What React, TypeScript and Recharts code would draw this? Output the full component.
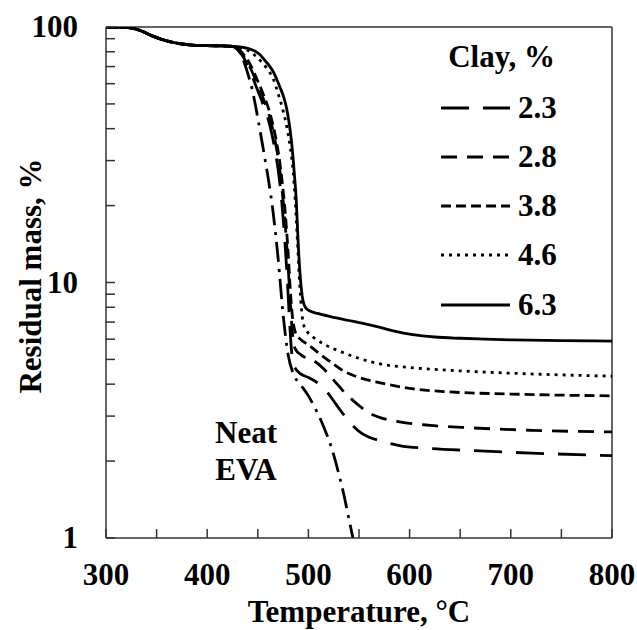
import React from "react";
import { LineChart, Line, XAxis, YAxis, ReferenceLine } from "recharts";

const FONT = '"Liberation Serif", "Times New Roman", serif';
const AXIS = "#333";

// ticks
const xTicks = [300, 350, 400, 450, 500, 550, 600, 650, 700, 750, 800];
const xLabels = [300, 400, 500, 600, 700, 800];
const yTicks = [1, 2, 3, 4, 5, 6, 7, 8, 9, 10, 20, 30, 40, 50, 60, 70, 80, 90, 100];
const yLabels = [1, 10, 100];

// [temperature °C, residual mass %]
const neatEva = [
  [300, 100], [315, 99.8], [325, 99], [335, 96.5], [345, 92.5], [355, 89.5], [365, 87.3],
  [375, 85.8], [385, 85], [400, 84.5], [415, 84.3], [425, 84], [430, 82], [434, 77],
  [438, 70], [441, 64], [444, 58], [447, 51], [450, 44], [455, 34], [460, 26], [465, 19],
  [470, 12.5], [475, 7.5], [480, 5.2], [485, 4.4], [492, 4], [500, 3.6], [507, 3.2],
  [513, 2.85], [518, 2.55], [523, 2.25], [527, 1.98], [531, 1.72], [535, 1.48], [538, 1.3],
  [541, 1.14], [544, 1.0],
];
const clay23 = [
  [300, 100], [315, 99.8], [325, 99], [335, 96.5], [345, 92.5], [355, 89.5], [365, 87.3],
  [375, 85.8], [385, 85], [400, 84.5], [415, 84.3], [425, 84], [430, 81.5], [436, 76],
  [442, 68], [448, 59], [455, 50], [462, 41], [467, 33], [471, 26], [474, 20], [477, 14],
  [479, 10.5], [481, 7.5], [483, 5.6], [486, 4.7], [492, 4.4], [500, 4.25], [509, 4.05],
  [518, 3.75], [527, 3.35], [536, 3.0], [544, 2.75], [552, 2.58], [560, 2.48], [571, 2.4],
  [590, 2.3], [620, 2.24], [660, 2.2], [720, 2.15], [800, 2.1],
];
const clay28 = [
  [300, 100], [315, 99.8], [325, 99], [335, 96.5], [345, 92.5], [355, 89.5], [365, 87.3],
  [375, 85.8], [385, 85], [400, 84.5], [415, 84.3], [425, 84], [430, 82], [436, 77],
  [442, 70], [448, 62], [455, 53], [462, 44], [467, 36], [471, 29], [474, 23], [477, 17],
  [480, 11.5], [482, 8.5], [484, 6.5], [487, 5.5], [493, 5.2], [505, 4.95], [515, 4.6],
  [525, 4.15], [536, 3.7], [548, 3.35], [558, 3.12], [571, 2.96], [590, 2.85], [620, 2.76],
  [660, 2.7], [720, 2.64], [800, 2.6],
];
const clay38 = [
  [300, 100], [315, 99.8], [325, 99], [335, 96.5], [345, 92.5], [355, 89.5], [365, 87.3],
  [375, 85.8], [385, 85], [400, 84.5], [415, 84.3], [425, 84], [430, 82.5], [436, 78],
  [442, 72], [448, 64], [455, 55], [462, 46], [467, 38], [471, 31], [474, 25], [477, 19],
  [480, 13], [482, 9.5], [484, 7.5], [487, 6.4], [492, 6], [500, 5.7], [510, 5.3],
  [520, 4.95], [535, 4.5], [550, 4.25], [571, 4.05], [600, 3.85], [640, 3.73], [700, 3.66],
  [800, 3.6],
];
const clay46 = [
  [300, 100], [315, 99.8], [325, 99], [335, 96.5], [345, 92.5], [355, 89.5], [365, 87.3],
  [375, 85.8], [385, 85], [400, 84.5], [415, 84.3], [425, 84], [430, 83.5], [440, 81],
  [447, 77.5], [455, 72], [460, 68], [465, 63], [470, 55], [475, 47], [479, 40], [482, 34],
  [485, 27], [487, 21], [489, 15], [491, 10.5], [493, 8], [495, 6.9], [499, 6.4], [505, 6.1],
  [515, 5.75], [530, 5.4], [550, 5.05], [571, 4.8], [600, 4.65], [637, 4.54], [680, 4.45],
  [740, 4.36], [800, 4.3],
];
const clay63 = [
  [300, 100], [315, 99.8], [325, 99], [335, 96.5], [345, 92.5], [355, 89.5], [365, 87.3],
  [375, 85.8], [385, 85], [400, 84.5], [415, 84.3], [425, 84], [430, 83.8], [440, 82.5],
  [447, 80.5], [452, 78], [457, 74], [462, 70], [466, 66], [469, 62], [472, 58], [475, 54],
  [478, 49], [481, 42], [483.5, 35], [486, 27], [488, 21], [490, 14], [492, 10.5], [494, 8.8],
  [497, 8], [501, 7.75], [510, 7.55], [525, 7.3], [540, 7.1], [555, 6.9], [571, 6.67],
  [585, 6.45], [603, 6.25], [625, 6.12], [650, 6.05], [675, 6.0], [702, 5.96], [750, 5.92],
  [800, 5.9],
];

const toPoints = (rows: number[][]) => rows.map(([t, v]) => ({ t, v }));

const series = [
  { key: "eva", name: "Neat EVA", rows: neatEva, dash: "20 7 3 7" },
  { key: "c23", name: "2.3", rows: clay23, dash: "28 14" },
  { key: "c28", name: "2.8", rows: clay28, dash: "16 10" },
  { key: "c38", name: "3.8", rows: clay38, dash: "10 5" },
  { key: "c46", name: "4.6", rows: clay46, dash: "3 5" },
  { key: "c63", name: "6.3", rows: clay63, dash: undefined },
];

const legendRows = series.slice(1);
const legendY = [108, 157, 206, 255, 305];

const XTick = (props: any) => {
  const { x, y, payload } = props;
  const major = xLabels.includes(payload.value);
  return (
    <g>
      <line x1={x} y1={y} x2={x} y2={y - 9} stroke={AXIS} strokeWidth={1.5} />
      {major && (
        <text x={x} y={y + 47} textAnchor="middle" fontFamily={FONT} fontWeight="bold" fontSize={31} fill="#000">
          {payload.value}
        </text>
      )}
    </g>
  );
};

const YTick = (props: any) => {
  const { x, y, payload } = props;
  const major = yLabels.includes(payload.value);
  return (
    <g>
      <line x1={x} y1={y} x2={x + 9} y2={y} stroke={AXIS} strokeWidth={1.5} />
      {major && (
        <text x={x - 28} y={y + 10} textAnchor="end" fontFamily={FONT} fontWeight="bold" fontSize={31} fill="#000">
          {payload.value}
        </text>
      )}
    </g>
  );
};

export default function App() {
  const txt = { fontFamily: FONT, fontWeight: "bold" as const, fill: "#000" };
  return (
    <div style={{ position: "absolute", left: 0, top: 0, width: 637, height: 630, background: "#fff" }}>
      <LineChart width={637} height={630} margin={{ top: 27, right: 25, bottom: 0, left: 0 }}>
        <XAxis
          type="number"
          dataKey="t"
          domain={[300, 800]}
          ticks={xTicks}
          interval={0}
          height={92}
          tickSize={0}
          tickMargin={0}
          tick={<XTick />}
          axisLine={{ stroke: AXIS, strokeWidth: 1.5 }}
          allowDataOverflow
        />
        <YAxis
          type="number"
          dataKey="v"
          scale="log"
          domain={[1, 100]}
          ticks={yTicks}
          interval={0}
          width={106}
          tickSize={0}
          tickMargin={0}
          tick={<YTick />}
          axisLine={{ stroke: AXIS, strokeWidth: 1.5 }}
          allowDataOverflow
        />
        <ReferenceLine y={100} stroke={AXIS} strokeWidth={1.5} />
        <ReferenceLine x={800} stroke={AXIS} strokeWidth={1.5} />
        {series.map((s) => (
          <Line
            key={s.key}
            data={toPoints(s.rows)}
            dataKey="v"
            name={s.name}
            type="monotone"
            stroke="#000"
            strokeWidth={2.8}
            strokeDasharray={s.dash}
            dot={false}
            activeDot={false}
            isAnimationActive={false}
          />
        ))}
      </LineChart>
      <svg width={637} height={630} style={{ position: "absolute", left: 0, top: 0, pointerEvents: "none" }}>
        <text {...txt} x={555} y={67} fontSize={31} textAnchor="end">Clay, %</text>
        {legendRows.map((s, i) => (
          <g key={s.key}>
            <line x1={441} x2={510} y1={legendY[i]} y2={legendY[i]} stroke="#000" strokeWidth={2.8} strokeDasharray={s.dash} />
            <text {...txt} x={518} y={legendY[i] + 10} fontSize={31}>{s.name}</text>
          </g>
        ))}
        <text {...txt} x={246} y={443} fontSize={31} textAnchor="middle">Neat</text>
        <text {...txt} x={246} y={480} fontSize={31} textAnchor="middle">EVA</text>
        <text {...txt} x={359} y={622} fontSize={31} textAnchor="middle">Temperature, °C</text>
        <text {...txt} x={0} y={0} fontSize={31} textAnchor="middle" transform="translate(41,276) rotate(-90)">
          Residual mass, %
        </text>
      </svg>
    </div>
  );
}
